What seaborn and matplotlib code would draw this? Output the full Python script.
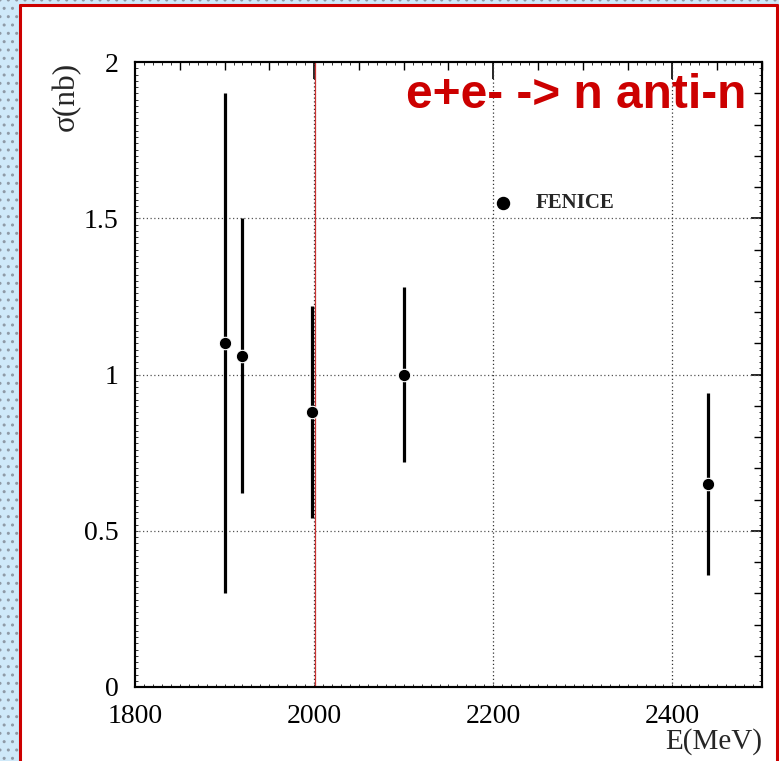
import matplotlib
matplotlib.use("Agg")
import matplotlib.pyplot as plt
import seaborn as sns
import pandas as pd
import numpy as np
from matplotlib.patches import Rectangle
from matplotlib.lines import Line2D
from matplotlib.ticker import MultipleLocator, NullFormatter

energy = [1900, 1920, 1998, 2100, 2440]
sigma = [1.10, 1.06, 0.88, 1.00, 0.65]
err_low = [0.80, 0.44, 0.34, 0.28, 0.29]
err_high = [0.80, 0.44, 0.34, 0.28, 0.29]
experiment = ["FENICE"] * 5
x_ticks = [1800, 2000, 2200, 2400]
x_tick_labels = ["1800", "2000", "2200", "2400"]
y_ticks = [0, 0.5, 1, 1.5, 2]
y_tick_labels = ["0", "0.5", "1", "1.5", "2"]
threshold_line = 2001

df = pd.DataFrame({"E": energy, "sigma": sigma, "lo": err_low, "hi": err_high, "exp": experiment})

sns.set_style("white")
plt.rcParams["font.family"] = ["Liberation Serif", "DejaVu Serif"]

fig = plt.figure(figsize=(7.79, 7.61), dpi=100)
W, H = 779, 761

# decorative background: blue dotted strip on left and top
bg = Rectangle((0, 0), 1, 1, transform=fig.transFigure, facecolor="#cfe9f9",
               edgecolor="#8f9aa6", hatch="..", linewidth=0, zorder=-3)
fig.patches.append(bg)
inner = Rectangle((19 / W, 0), (776 - 19) / W, 1 - 4 / H, transform=fig.transFigure,
                  facecolor="white", edgecolor="none", zorder=-2)
fig.patches.append(inner)
# red frame
for xs, ys in [([19.5 / W, 19.5 / W], [0, 1 - 4.5 / H]),
               ([19.5 / W, 776.5 / W], [1 - 4.5 / H, 1 - 4.5 / H]),
               ([776.5 / W, 776.5 / W], [0, 1 - 4.5 / H])]:
    fig.add_artist(Line2D(xs, ys, transform=fig.transFigure, color="#cc0000", lw=2.2))

ax = fig.add_axes([135 / W, 1 - 687 / H, (762 - 135) / W, (687 - 62) / H])
ax.set_facecolor("white")

ax.set_xlim(1800, 2500)
ax.set_ylim(0, 2)

# grid
for yv in [0.5, 1, 1.5]:
    ax.axhline(yv, color="#555555", lw=0.9, ls=(0, (1, 2)), zorder=1)
for xv in [2000, 2200, 2400]:
    ax.axvline(xv, color="#333333", lw=0.9, ls=(0, (1, 2)), zorder=1)
ax.axvline(threshold_line, color="#cc3333", lw=0.9, zorder=1)

# error bars
ax.vlines(df["E"], df["sigma"] - df["lo"], df["sigma"] + df["hi"], color="black", lw=2.3, zorder=3)
sns.scatterplot(data=df, x="E", y="sigma", ax=ax, color="black", s=80, edgecolor="white",
                linewidth=0.8, zorder=4, legend=False)

# legend
ax.scatter([2211], [1.55], s=75, color="black", zorder=4)
ax.text(2247, 1.55, "FENICE", fontsize=15, fontweight="bold", va="center", ha="left")

ax.text(2482, 1.852, "e+e- -> n anti-n", color="#cc0000", fontsize=34.5, fontweight="bold",
        family=["Liberation Sans", "DejaVu Sans"], ha="right", va="baseline")

ax.set_xticks(x_ticks)
ax.set_xticklabels(x_tick_labels)
ax.set_yticks(y_ticks)
ax.set_yticklabels(y_tick_labels)
ax.xaxis.set_minor_locator(MultipleLocator(50))
ax.yaxis.set_minor_locator(MultipleLocator(0.1))
ax.tick_params(which="both", direction="in", top=True, right=True, colors="black",
               labelsize=20)
ax.tick_params(which="major", length=12, width=1.2, pad=12)
ax.tick_params(which="minor", length=6, width=1.0)
ax.tick_params(axis="y", which="major", length=8, pad=12)
for sp in ax.spines.values():
    sp.set_color("black")
    sp.set_linewidth(1.5)
    sp.set_visible(True)

# fine ruler ticks along the frame
for loc in ["left", "right"]:
    sec = ax.secondary_yaxis(loc)
    sec.set_yticks([])
    sec.yaxis.set_minor_locator(MultipleLocator(0.02))
    sec.yaxis.set_minor_formatter(NullFormatter())
    sec.tick_params(which="minor", direction="in", length=2.5, width=0.7, colors="#333333")
    sec.spines[loc].set_linewidth(1.5)
for loc in ["bottom", "top"]:
    sec = ax.secondary_xaxis(loc)
    sec.set_xticks([])
    sec.xaxis.set_minor_locator(MultipleLocator(10))
    sec.xaxis.set_minor_formatter(NullFormatter())
    sec.tick_params(which="minor", direction="in", length=2.5, width=0.7, colors="#333333")
    sec.spines[loc].set_linewidth(1.5)

ax.set_xlabel("")
ax.set_ylabel("")
fig.text(762 / W, 1 - 742 / H, "E(MeV)", fontsize=21, ha="right", va="center")
fig.text(66 / W, 1 - 96 / H, "σ(nb)", fontsize=22.5, ha="center", va="center", rotation=90)

fig.savefig("out.png", dpi=100)
